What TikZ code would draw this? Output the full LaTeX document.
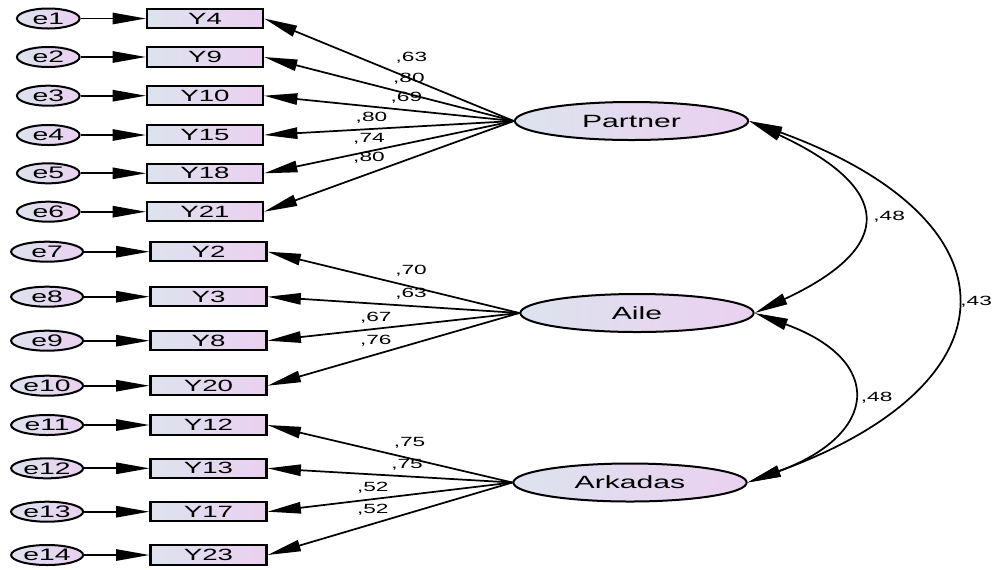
\documentclass[tikz,border=0pt]{standalone}
\usepackage{fontspec}
\setmainfont{Liberation Sans}
\newfontfamily\semfont[FakeStretch=1.7]{Liberation Sans}
\usepackage{tikz}
\usetikzlibrary{arrows.meta, positioning, shapes.geometric}
\definecolor{fillL}{HTML}{DDE3EE}
\definecolor{fillR}{HTML}{EAD0F0}
\tikzstyle{sem}=[line width=1.3pt, >={Triangle[length=25pt,width=8.5pt]}, x=0.75pt, y=-0.75pt, node distance=49pt]
\tikzstyle{observed}=[draw, line width=1.6pt, rectangle, minimum width=87pt, minimum height=14.5pt, inner sep=0pt, left color=fillL, right color=fillR, font=\semfont\fontsize{12.2}{13}\selectfont]
\tikzstyle{errvar}=[draw, line width=1.5pt, ellipse, minimum width=47pt, minimum height=15pt, inner sep=0pt, left color=fillL, right color=fillR, font=\semfont\fontsize{12.5}{13}\selectfont]
\tikzstyle{latent}=[draw, line width=1.5pt, ellipse, minimum width=175pt, minimum height=28.5pt, inner sep=0pt, left color=fillL, right color=fillR, font=\semfont\fontsize{13.3}{14}\selectfont]
\tikzstyle{loading}=[font=\semfont\fontsize{10}{11}\selectfont, inner sep=1pt]

\begin{document}
\begin{tikzpicture}[sem]
  \useasboundingbox (0,0) rectangle (994,569);
  % latent factors
  \node[latent] (Partner) at (631.5,121) {Partner};
  \node[latent] (Aile) at (637,313) {Aile};
  \node[latent] (Arkadas) at (630,482.5) {Arkadas};
  % indicators
  \node[observed] (Y4) at (205,18.5) {Y4};
  \node[observed] (Y9) at (205,57) {Y9};
  \node[observed] (Y10) at (205,95.7) {Y10};
  \node[observed] (Y15) at (205,135) {Y15};
  \node[observed] (Y18) at (205,173.3) {Y18};
  \node[observed] (Y21) at (205,211.7) {Y21};
  \node[observed] (Y2) at (208.5,251.7) {Y2};
  \node[observed] (Y3) at (208.5,296.7) {Y3};
  \node[observed] (Y8) at (208.5,340.7) {Y8};
  \node[observed] (Y20) at (208.5,385.7) {Y20};
  \node[observed] (Y12) at (208.5,425) {Y12};
  \node[observed] (Y13) at (208.5,468.3) {Y13};
  \node[observed] (Y17) at (208.5,511.7) {Y17};
  \node[observed] (Y23) at (208.5,555) {Y23};
  % errors
  \node[errvar] (e1) [left=of Y4] {e1};
  \node[errvar] (e2) [left=of Y9] {e2};
  \node[errvar] (e3) [left=of Y10] {e3};
  \node[errvar] (e4) [left=of Y15] {e4};
  \node[errvar] (e5) [left=of Y18] {e5};
  \node[errvar] (e6) [left=of Y21] {e6};
  \node[errvar,minimum width=54pt] (e7) [left=of Y2] {e7};
  \node[errvar,minimum width=54pt] (e8) [left=of Y3] {e8};
  \node[errvar,minimum width=54pt] (e9) [left=of Y8] {e9};
  \node[errvar,minimum width=54pt] (e10) [left=of Y20] {e10};
  \node[errvar,minimum width=54pt] (e11) [left=of Y12] {e11};
  \node[errvar,minimum width=54pt] (e12) [left=of Y13] {e12};
  \node[errvar,minimum width=54pt] (e13) [left=of Y17] {e13};
  \node[errvar,minimum width=54pt] (e14) [left=of Y23] {e14};
  \path[->] (e1) edge (Y4) (e2) edge (Y9) (e3) edge (Y10) (e4) edge (Y15)
    (e5) edge (Y18) (e6) edge (Y21) (e7) edge (Y2) (e8) edge (Y3) (e9) edge (Y8)
    (e10) edge (Y20) (e11) edge (Y12) (e12) edge (Y13) (e13) edge (Y17) (e14) edge (Y23);
  % loadings
  \path[->] (Partner.west) edge node[loading,pos=.41,yshift=16.2pt] {,63} (Y4.east);
  \path[->] (Partner.west) edge node[loading,pos=.42,yshift=11.6pt] {,80} (Y9.east);
  \path[->] (Partner.west) edge node[loading,pos=.43,yshift=9.6pt] {,69} (Y10.east);
  \path[->] (Partner.west) edge node[loading,pos=.57,yshift=8.8pt] {,80} (Y15.east);
  \path[->] (Partner.west) edge node[loading,pos=.58,yshift=9.7pt] {,74} (Y18.east);
  \path[->] (Partner.west) edge node[loading,pos=.58,yshift=11.6pt] {,80} (Y21.east);
  \path[->] (Aile.west) edge node[loading,pos=.43,yshift=12.2pt] {,70} (Y2.east);
  \path[->] (Aile.west) edge node[loading,pos=.43,yshift=9pt] {,63} (Y3.east);
  \path[->] (Aile.west) edge node[loading,pos=.57,yshift=8.3pt] {,67} (Y8.east);
  \path[->] (Aile.west) edge node[loading,pos=.57,yshift=10.4pt] {,76} (Y20.east);
  \path[->] (Arkadas.west) edge node[loading,pos=.42,yshift=11.6pt] {,75} (Y12.east);
  \path[->] (Arkadas.west) edge node[loading,pos=.43,yshift=9.1pt] {,75} (Y13.east);
  \path[->] (Arkadas.west) edge node[loading,pos=.57,yshift=8.5pt] {,52} (Y17.east);
  \path[->] (Arkadas.west) edge node[loading,pos=.57,yshift=10.4pt] {,52} (Y23.east);
  % covariances
  \path[<->] (Partner.east) edge[out=-25,in=25,looseness=2.1] node[loading,right=9pt] {,48} (Aile.east);
  \path[<->] (Aile.east) edge[out=-20,in=20,looseness=2.1] node[loading,right=7pt] {,48} (Arkadas.east);
  \path[<->] (Partner.east) edge[out=-20,in=20,looseness=2.05] node[loading,right=4pt] {,43} (Arkadas.east);
\end{tikzpicture}
\end{document}
